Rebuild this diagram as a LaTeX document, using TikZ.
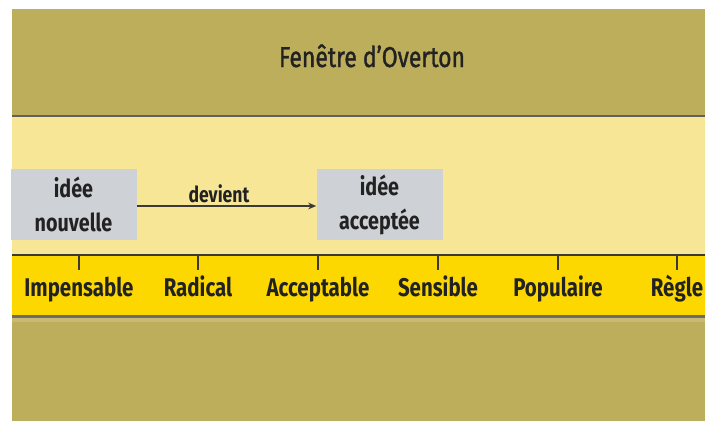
\documentclass[tikz,border=0pt]{standalone}
\usepackage{fontspec}
\setmainfont{Fira Sans}[FakeStretch=0.80]
\newfontfamily\titlefont{Fira Sans}[FakeStretch=0.80, FakeBold=1.2]
\usetikzlibrary{arrows.meta}
\definecolor{olive}{HTML}{BDAE5B}
\definecolor{paleyel}{HTML}{F8E697}
\definecolor{brightyel}{HTML}{FDD800}
\definecolor{boxgray}{HTML}{CED1D5}
\definecolor{linedark}{HTML}{3A3A3A}
\definecolor{txt}{HTML}{222222}
\tikzset{
  lbl/.style={font=\fontsize{19.2}{20}\selectfont\bfseries, text=txt, inner sep=0pt, anchor=base},
  ideabox/.style={fill=boxgray, minimum width=94.5pt, minimum height=53pt, inner sep=0pt, align=center, font=\fontsize{18.5}{25.5}\selectfont\bfseries, text=txt},
  tick/.style={draw=linedark, line width=1.5pt},
}
\begin{document}
\begin{tikzpicture}[x=0.75pt,y=-0.75pt]
\useasboundingbox (0,0) rectangle (705,421);
\fill[white] (0,0) rectangle (705,421);
\fill[olive] (12,9) rectangle (705,421);
\fill[paleyel] (12,116) rectangle (705,255);
\fill[brightyel] (12,255) rectangle (705,316);
\draw[linedark!80, line width=1.5pt] (12,116) -- (705,116);
\draw[linedark, line width=2.2pt] (12,255) -- (705,255);
\draw[linedark!75, line width=1.6pt] (12,316.5) -- (705,316.5);
\fill[olive!85!white] (12,318) rectangle (705,322);
\node[font=\titlefont\fontsize{21.5}{24}\selectfont, text=txt, inner sep=0pt, anchor=base] (title) at (372,67) {Fenêtre d’Overton};
\node[ideabox] (nouv) at (73.5,204.5) {idée\\nouvelle};
\node[ideabox] (acc) at (379.5,204.5) {idée\\acceptée};
\draw[-{Stealth[length=6pt,width=5pt]}, draw=linedark, line width=1pt] (nouv.east |- 0,206) -- (acc.west |- 0,206);
\node[font=\fontsize{16.5}{18}\selectfont\bfseries, text=txt, inner sep=0pt, anchor=base] (dev) at (219,202) {devient};
\foreach \x/\n/\t in {79/imp/Impensable,198/rad/Radical,318/acc2/Acceptable,438/sen/Sensible,558/pop/Populaire,677/reg/Règle}{
  \coordinate (t\n) at (\x,256);
  \draw[tick] (t\n) -- ++(0,14);
  \node[lbl] (l\n) at (\x,296) {\t};
}
\end{tikzpicture}
\end{document}
